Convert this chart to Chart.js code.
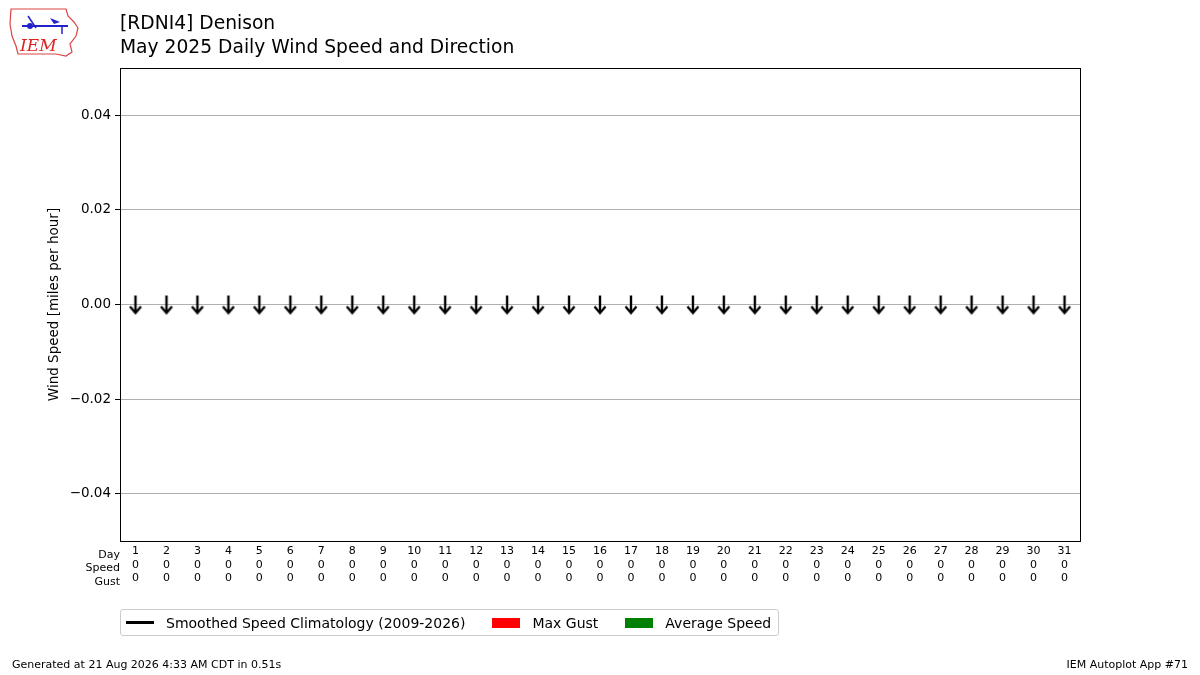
<!DOCTYPE html>
<html><head><meta charset="utf-8">
<script src="https://cdn.jsdelivr.net/npm/chart.js@4"></script>
<style>
body{margin:0;width:1200px;height:675px;background:#fff;font-family:"DejaVu Sans",sans-serif;position:relative;overflow:hidden}
#c{position:absolute;left:0;top:0}
.t{position:absolute;left:120px;font-size:18.7px;color:#000;white-space:nowrap}
.foot{position:absolute;top:658px;font-size:11px}
#legend{position:absolute;left:120px;top:609px;width:657px;height:25px;border:1px solid #ccc;border-radius:3px;font-size:14px;display:flex;align-items:center;white-space:nowrap}
.li{display:flex;align-items:center;margin-left:5px;margin-right:22px}
.sw{width:28px;margin-right:12px;flex:none}
</style></head><body>
<canvas id="c" width="1200" height="675"></canvas>
<svg style="position:absolute;left:8px;top:6px" width="72" height="52" viewBox="0 0 72 52">
<path d="M3 3 L58 3 L60 10 L66 16 L70 22 L68 30 L62 38 L64 46 L58 50 L48 48 L10 48 L8 40 L4 30 L2 18 Z" fill="none" stroke="#d44" stroke-width="1.2"/>
<line x1="14" y1="20" x2="60" y2="20" stroke="#22c" stroke-width="2"/>
<line x1="20" y1="10" x2="28" y2="22" stroke="#22c" stroke-width="1.5"/>
<path d="M42 12 L52 16 L46 18 Z" fill="#22c"/>
<circle cx="22" cy="20" r="3" fill="#22c"/>
<line x1="54" y1="20" x2="54" y2="28" stroke="#22c" stroke-width="1.5"/>
<text x="12" y="45" font-family="DejaVu Serif" font-style="italic" font-size="17" fill="#d22">IEM</text>
</svg>
<div class="t" style="top:12px">[RDNI4] Denison</div>
<div class="t" style="top:36px">May 2025 Daily Wind Speed and Direction</div>
<div id="legend">
<div class="li"><div class="sw" style="height:3px;background:#000"></div>Smoothed Speed Climatology (2009-2026)</div>
<div class="li"><div class="sw" style="height:10px;background:red"></div>Max Gust</div>
<div class="li"><div class="sw" style="height:10px;background:green"></div>Average Speed</div>
</div>
<div class="foot" style="left:12px">Generated at 21 Aug 2026 4:33 AM CDT in 0.51s</div>
<div class="foot" style="right:12px">IEM Autoplot App #71</div>
<script>
const days = Array.from({length:31},(_, i)=>i+1);
const avgSpeed = [0,0,0,0,0,0,0,0,0,0,0,0,0,0,0,0,0,0,0,0,0,0,0,0,0,0,0,0,0,0,0];
const maxGust = [0,0,0,0,0,0,0,0,0,0,0,0,0,0,0,0,0,0,0,0,0,0,0,0,0,0,0,0,0,0,0];
const yTicks = [-0.04,-0.02,0,0.02,0.04];

// arrow glyph pointing down
const arrow = document.createElement("canvas");
arrow.width = 16; arrow.height = 22;
(function(){
  const g = arrow.getContext("2d");
  g.strokeStyle = "#000"; g.lineWidth = 2.4;
  g.beginPath(); g.moveTo(8,2); g.lineTo(8,19); g.stroke();
  g.beginPath(); g.moveTo(2.5,13); g.lineTo(8,19.5); g.lineTo(13.5,13); g.stroke();
})();

const boxPlugin = {
  id:"box",
  afterDraw(ch){
    const a = ch.chartArea, g = ch.ctx;
    g.save(); g.strokeStyle="#000"; g.lineWidth=1;
    g.strokeRect(a.left+0.5,a.top+0.5,a.right-a.left,a.bottom-a.top);
    g.font="11px 'DejaVu Sans'"; g.fillStyle="#000"; g.textAlign="right"; g.textBaseline="middle";
    ["Day","Speed","Gust"].forEach((s,i)=>g.fillText(s,a.left,a.bottom+14+i*13.5));
    g.translate(54,(a.top+a.bottom)/2); g.rotate(-Math.PI/2);
    g.font="13.5px 'DejaVu Sans'"; g.textAlign="center";
    g.fillText("Wind Speed [miles per hour]",0,0);
    g.restore();
  }
};

new Chart(document.getElementById("c"),{
  data:{
    labels:days,
    datasets:[
      {type:"bar",data:maxGust.map((v,i)=>({x:days[i],y:v})),backgroundColor:"red",barPercentage:0.8},
      {type:"bar",data:avgSpeed.map((v,i)=>({x:days[i],y:v})),backgroundColor:"green",barPercentage:0.8},
      {type:"scatter",data:avgSpeed.map((v,i)=>({x:days[i],y:v})),pointStyle:arrow}
    ]
  },
  options:{
    responsive:false,animation:false,
    layout:{padding:{left:0,right:120,top:68,bottom:0}},
    plugins:{legend:{display:false},tooltip:{enabled:false}},
    scales:{
      x:{type:"linear",min:0.5,max:31.5,offset:false,
        afterFit(s){s.height=134;},
        afterBuildTicks(s){s.ticks=days.map(d=>({value:d}));},
        grid:{display:false,drawTicks:true,tickLength:4,tickColor:"#000"},
        border:{display:false},
        ticks:{color:"#000",font:{size:11,family:"DejaVu Sans"},maxRotation:0,autoSkip:false,padding:0,
          callback:(v)=>{const i=days.indexOf(v);return [String(v),String(avgSpeed[i]),String(maxGust[i])];}}},
      y:{min:-0.05,max:0.05,
        afterFit(s){s.width=120;},
        afterBuildTicks(s){s.ticks=yTicks.map(v=>({value:v}));},
        grid:{color:"#b0b0b0",tickColor:"#000",tickLength:5,drawOnChartArea:true},
        border:{display:false},
        ticks:{color:"#000",font:{size:13.5,family:"DejaVu Sans"},padding:4,
          callback:v=>(v<0?"\u2212":"")+Math.abs(v).toFixed(2)}}
    }
  },
  plugins:[boxPlugin]
});
</script>
</body></html>
